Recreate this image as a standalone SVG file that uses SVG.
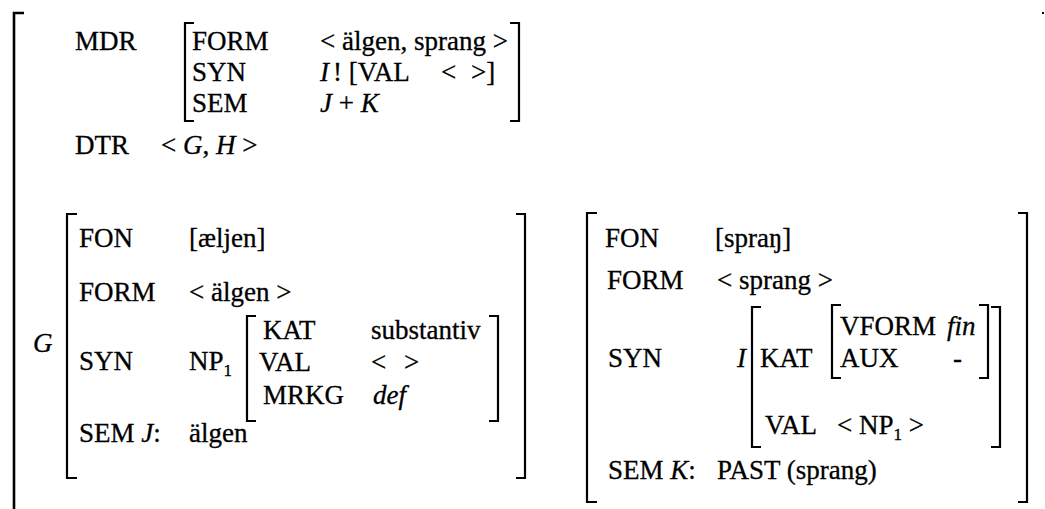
<svg xmlns="http://www.w3.org/2000/svg" width="1045" height="509" viewBox="0 0 1045 509">
<style>
.t{font-family:"Liberation Serif","Times New Roman",serif;font-size:27px;fill:#000;stroke:#000;stroke-width:0.3}
.i{font-style:italic}
.s{font-size:17px}
.br{fill:none;stroke:#000;stroke-width:2.2}
.ob{fill:none;stroke:#000;stroke-width:2.6}
</style>
<rect width="1045" height="509" fill="#fff"/>
<g id="outer">
<path class="ob" d="M24,13 H14 V509"/>
<rect x="1042" y="12" width="2" height="2" fill="#000"/>
</g>
<g id="mdr">
<text class="t" x="75" y="50">MDR</text>
<path class="br" d="M194,23 H185 V121 H194"/>
<text class="t" x="192" y="50">FORM</text>
<text class="t" x="192" y="81">SYN</text>
<text class="t" x="192" y="112">SEM</text>
<text class="t" x="320" y="50">&lt; älgen, sprang &gt;</text>
<text class="t i" x="320" y="81">I</text>
<text class="t" x="333" y="81">! [VAL</text>
<text class="t" x="441" y="81">&lt;</text>
<text class="t" x="471" y="81">&gt;]</text>
<text class="t" x="320" y="112"><tspan class="i">J</tspan> + <tspan class="i">K</tspan></text>
<path class="br" d="M510,23 H519 V121 H510"/>
</g>
<g id="dtr">
<text class="t" x="75" y="154">DTR</text>
<text class="t" x="161" y="154">&lt; <tspan class="i">G</tspan>, <tspan class="i">H</tspan> &gt;</text>
</g>
<g id="G">
<text class="t i" x="33" y="352">G</text>
<path class="br" d="M77,214 H67 V478 H77"/>
<path class="br" d="M516,214 H525 V478 H516"/>
<text class="t" x="79" y="247">FON</text>
<text class="t" x="189" y="247">[æljen]</text>
<text class="t" x="79" y="301">FORM</text>
<text class="t" x="189" y="301">&lt; älgen &gt;</text>
<text class="t" x="79" y="370">SYN</text>
<text class="t" x="189" y="370">NP<tspan class="s" dy="6">1</tspan></text>
<path class="br" d="M256,316 H247 V421 H256"/>
<text class="t" x="263" y="339">KAT</text>
<text class="t" x="371" y="339">substantiv</text>
<text class="t" x="259" y="371">VAL</text>
<text class="t" x="371" y="371">&lt;</text>
<text class="t" x="404" y="371">&gt;</text>
<text class="t" x="263" y="404">MRKG</text>
<text class="t i" x="373" y="404">def</text>
<path class="br" d="M489,316 H498 V421 H489"/>
<text class="t" x="79" y="442">SEM <tspan class="i">J</tspan>:</text>
<text class="t" x="189" y="442">älgen</text>
</g>
<g id="H">
<path class="br" d="M597,213 H587 V502 H597"/>
<path class="br" d="M1018,213 H1027 V502 H1018"/>
<text class="t" x="605" y="247">FON</text>
<text class="t" x="715" y="247">[spraŋ]</text>
<text class="t" x="607" y="289">FORM</text>
<text class="t" x="717" y="289">&lt; sprang &gt;</text>
<text class="t" x="608" y="367">SYN</text>
<text class="t i" x="737" y="367">I</text>
<path class="br" d="M761,307 H752 V447 H761"/>
<text class="t" x="760" y="367">KAT</text>
<path class="br" d="M841,305 H832 V378 H841"/>
<text class="t" x="840" y="335">VFORM</text>
<text class="t i" x="947" y="335">fin</text>
<text class="t" x="840" y="367">AUX</text>
<text class="t" x="953" y="367">-</text>
<path class="br" d="M979,305 H988 V378 H979"/>
<path class="br" d="M991,307 H1000 V447 H991"/>
<text class="t" x="765" y="434">VAL</text>
<text class="t" x="837" y="434">&lt; NP<tspan class="s" dy="6">1</tspan><tspan dy="-6"> &gt;</tspan></text>
<text class="t" x="608" y="479">SEM <tspan class="i">K</tspan>:</text>
<text class="t" x="717" y="479">PAST (sprang)</text>
</g>
</svg>
